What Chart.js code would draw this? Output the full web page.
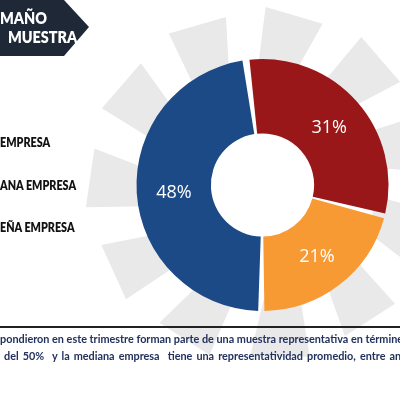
<!DOCTYPE html>
<html>
<head>
<meta charset="utf-8">
<script src="https://cdn.jsdelivr.net/npm/chart.js@4.4.1/dist/chart.umd.min.js"></script>
<style>
  html, body { margin: 0; padding: 0; background: #ffffff; }
  #wrap { position: relative; width: 400px; height: 394px; overflow: hidden; background: #fff; }
  #c { position: absolute; left: 0; top: 0; }
  .title { position: absolute; left: 0; top: 0; width: 89px; height: 56px; background: #1e2836;
           clip-path: polygon(0 0, 64px 0, 89px 27px, 64px 56px, 0 56px); }
  .tt { position: absolute; color: #fff; font-family: Lato, "Open Sans", sans-serif; font-weight: 800; font-size: 16px; white-space: pre; transform-origin: 0 0; transform: scaleX(0.9); }
  .leg { position: absolute; left: 0; color: #111; font-family: Lato, "Open Sans", sans-serif; font-weight: 800; font-size: 13.5px; white-space: pre; transform-origin: 0 0; transform: scaleX(0.8); }
  .rule { position: absolute; left: 0; top: 326px; width: 400px; height: 2px; background: #222; }
  .note { position: absolute; left: 0; color: #23315e; font-family: Lato, "Open Sans", sans-serif; font-weight: 700; font-size: 10.85px; white-space: pre; }
</style>
</head>
<body>
<div id="wrap">
  <canvas id="c" width="400" height="394"></canvas>
  <div class="title"></div>
  <div class="tt" style="left:0px; top:8px;">MAÑO</div>
  <div class="tt" style="left:8px; top:27px;">MUESTRA</div>
  <div class="leg" style="top:134px;">EMPRESA</div>
  <div class="leg" style="top:177px;">ANA EMPRESA</div>
  <div class="leg" style="top:219px;">EÑA EMPRESA</div>
  <div class="rule"></div>
  <div class="note" style="top:332px;">pondieron en este trimestre forman parte de una muestra representativa en términe</div>
  <div class="note" style="top:349px; word-spacing:1.4px;"> del 50%  y la mediana empresa  tiene una representatividad promedio, entre an</div>
</div>
<script>
const categories = ["Pequeña empresa", "Gran empresa", "Mediana empresa"];
const values = [48, 31, 21];
const colors = ["#1c4a87", "#9a1719", "#f89a33"];
const valueLabels = ["48%", "31%", "21%"];

const pinwheel = {
  id: 'pinwheel',
  beforeDraw(chart) {
    const meta = chart.getDatasetMeta(0);
    if (!meta.data.length) return;
    const cx = meta.data[0].x, cy = meta.data[0].y;
    const ctx = chart.ctx;
    ctx.save();
    ctx.fillStyle = '#e9e9e9';
    const n = 11;
    for (let i = 0; i < n; i++) {
      const a = i * 2 * Math.PI / n + 0.1;
      const pts = [[115, a], [178, a + 0.06], [172, a + 0.40], [115, a + 0.32]];
      ctx.beginPath();
      pts.forEach((p, k) => {
        const x = cx + p[0] * Math.cos(p[1]);
        const y = cy + p[0] * Math.sin(p[1]);
        if (k === 0) ctx.moveTo(x, y); else ctx.lineTo(x, y);
      });
      ctx.closePath();
      ctx.fill();
    }
    ctx.restore();
  }
};

const labelsPlugin = {
  id: 'sliceLabels',
  afterDatasetsDraw(chart) {
    const ctx = chart.ctx;
    const meta = chart.getDatasetMeta(0);
    ctx.save();
    ctx.fillStyle = '#ffffff';
    ctx.font = '18px "Open Sans", sans-serif';
    ctx.textAlign = 'center';
    ctx.textBaseline = 'middle';
    meta.data.forEach((arc, i) => {
      const p = arc.tooltipPosition();
      ctx.fillText(valueLabels[i], p.x, p.y + 2);
    });
    ctx.restore();
  }
};

new Chart(document.getElementById('c'), {
  type: 'doughnut',
  data: {
    labels: categories,
    datasets: [{
      data: values,
      backgroundColor: colors,
      borderColor: '#ffffff',
      borderWidth: 0,
      spacing: 4
    }]
  },
  options: {
    responsive: false,
    animation: false,
    rotation: 180,
    cutout: '40%',
    layout: { padding: { left: 135, right: 10, top: 59, bottom: 83 } },
    plugins: { legend: { display: false }, tooltip: { enabled: false } }
  },
  plugins: [pinwheel, labelsPlugin]
});
</script>
</body>
</html>
